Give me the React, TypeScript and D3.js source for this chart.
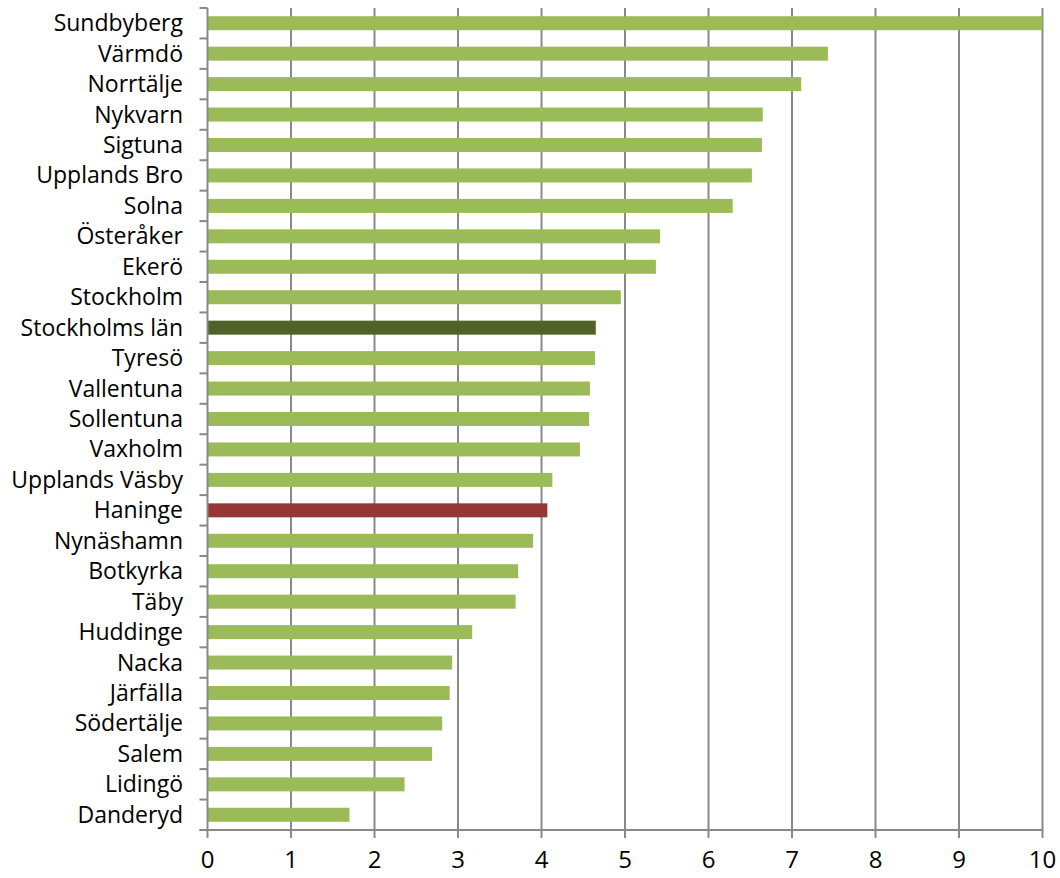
import React from 'react';
import * as d3 from 'd3';

const kommuner = [
  'Sundbyberg', 'Värmdö', 'Norrtälje', 'Nykvarn', 'Sigtuna', 'Upplands Bro', 'Solna',
  'Österåker', 'Ekerö', 'Stockholm', 'Stockholms län', 'Tyresö', 'Vallentuna', 'Sollentuna',
  'Vaxholm', 'Upplands Väsby', 'Haninge', 'Nynäshamn', 'Botkyrka', 'Täby', 'Huddinge',
  'Nacka', 'Järfälla', 'Södertälje', 'Salem', 'Lidingö', 'Danderyd',
];
const values = [
  10.0, 7.43, 7.11, 6.65, 6.64, 6.52, 6.29, 5.42, 5.37, 4.95, 4.65, 4.64, 4.58, 4.57,
  4.46, 4.13, 4.07, 3.9, 3.72, 3.69, 3.17, 2.93, 2.9, 2.81, 2.69, 2.36, 1.7,
];
const xTicks = [0, 1, 2, 3, 4, 5, 6, 7, 8, 9, 10];

const colorFor = (name: string) =>
  name === 'Stockholms län' ? '#4F6228' : name === 'Haninge' ? '#953735' : '#9BBB59';

const App: React.FC = () => {
  const ref = React.useRef<SVGSVGElement>(null);

  React.useEffect(() => {
    const svg = d3.select(ref.current);
    svg.selectAll('*').remove();

    const left = 207.5;
    const right = 1042.5;
    const top = 8;
    const bottom = 830;

    const x = d3.scaleLinear().domain([0, 10]).range([left, right]);
    const y = d3.scaleBand().domain(kommuner).range([top, bottom]).paddingInner(0.54).paddingOuter(0.27);
    const rows = d3.scaleBand().domain(kommuner).range([top, bottom]);
    const grid = '#898989';

    // gridlines
    svg
      .selectAll('line.grid')
      .data(xTicks.slice(1))
      .enter()
      .append('line')
      .attr('x1', (d) => x(d))
      .attr('x2', (d) => x(d))
      .attr('y1', top)
      .attr('y2', bottom + 8)
      .attr('stroke', grid)
      .attr('stroke-width', 2);

    // bars
    svg
      .selectAll('rect.bar')
      .data(kommuner)
      .enter()
      .append('rect')
      .attr('x', x(0))
      .attr('y', (d) => y(d) as number)
      .attr('width', (d, i) => x(values[i]) - x(0))
      .attr('height', y.bandwidth())
      .attr('fill', (d) => colorFor(d));

    // y axis line and ticks
    svg
      .append('line')
      .attr('x1', left)
      .attr('x2', left)
      .attr('y1', top)
      .attr('y2', bottom + 8)
      .attr('stroke', grid)
      .attr('stroke-width', 2);
    const boundaries = kommuner.map((k) => rows(k) as number).concat([bottom]);
    svg
      .selectAll('line.ytick')
      .data(boundaries)
      .enter()
      .append('line')
      .attr('x1', left - 8)
      .attr('x2', left)
      .attr('y1', (d) => d)
      .attr('y2', (d) => d)
      .attr('stroke', grid)
      .attr('stroke-width', 2);

    // x axis line
    svg
      .append('line')
      .attr('x1', left - 8)
      .attr('x2', right)
      .attr('y1', bottom)
      .attr('y2', bottom)
      .attr('stroke', grid)
      .attr('stroke-width', 2);

    // category labels
    svg
      .selectAll('text.cat')
      .data(kommuner)
      .enter()
      .append('text')
      .attr('x', 183)
      .attr('y', (d) => (rows(d) as number) + rows.bandwidth() / 2)
      .attr('dy', '0.35em')
      .attr('text-anchor', 'end')
      .attr('font-family', 'Open Sans, sans-serif')
      .attr('font-size', 23)
      .attr('fill', '#000')
      .text((d) => d);

    // x tick labels
    svg
      .selectAll('text.xt')
      .data(xTicks)
      .enter()
      .append('text')
      .attr('x', (d) => x(d))
      .attr('y', 860)
      .attr('dy', '0.35em')
      .attr('text-anchor', 'middle')
      .attr('font-family', 'Open Sans, sans-serif')
      .attr('font-size', 24)
      .attr('fill', '#000')
      .text((d) => String(d));
  }, []);

  return (
    <svg
      ref={ref}
      width={1060}
      height={878}
      style={{ position: 'absolute', left: 0, top: 0, background: '#fff' }}
    />
  );
};

export default App;
